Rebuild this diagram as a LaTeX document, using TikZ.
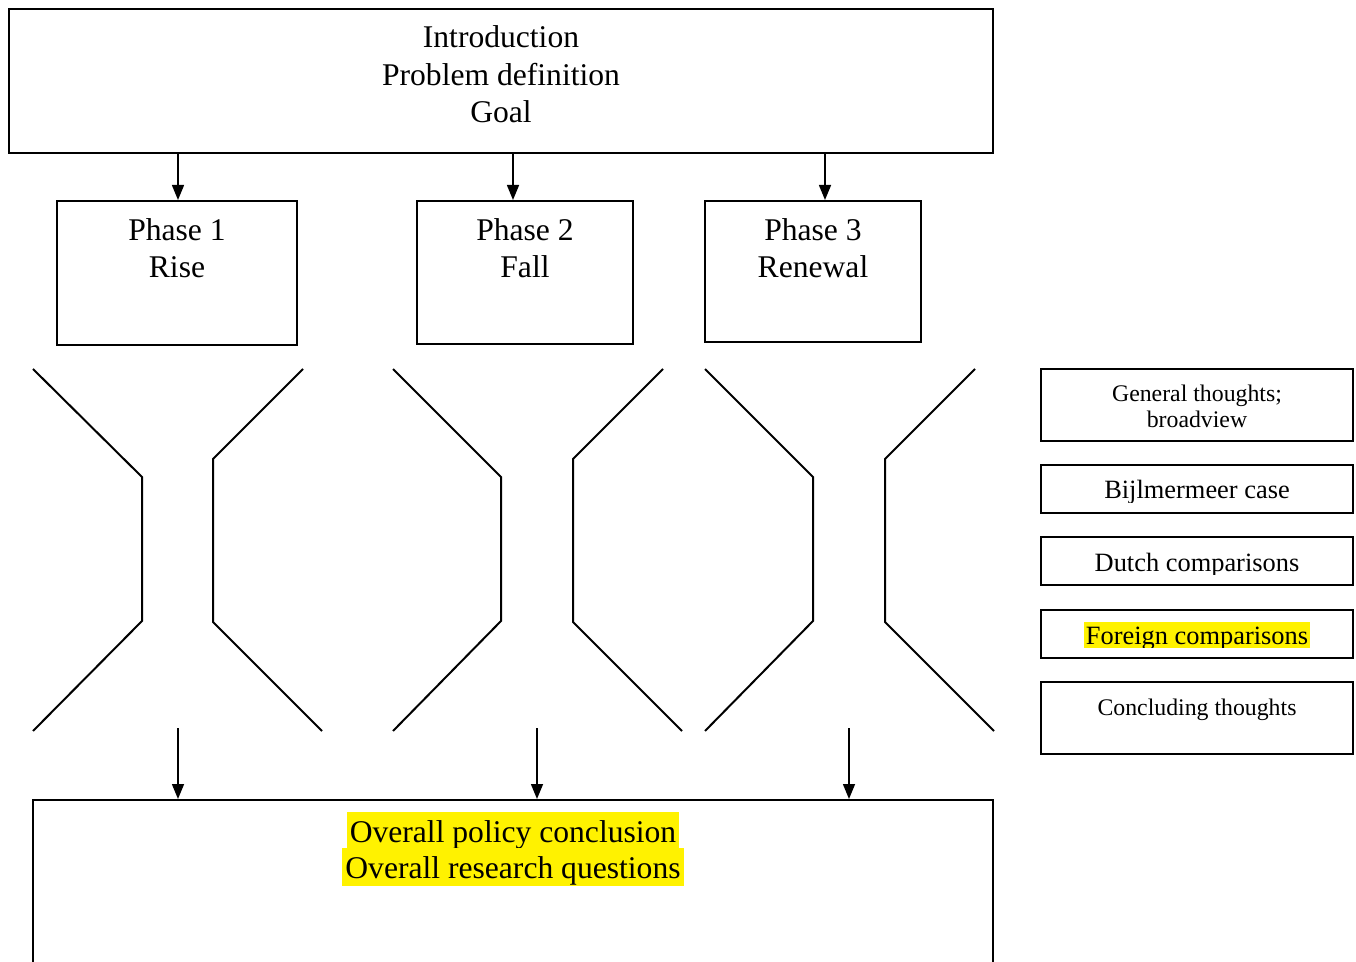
\documentclass[tikz,border=0pt]{standalone}
\usepackage{fontspec}
\setmainfont{Liberation Serif}
\usetikzlibrary{arrows.meta,fit}
\begin{document}
\begin{tikzpicture}[x=0.5pt,y=-0.5pt,
  box/.style={draw,line width=1pt,inner sep=0pt},
  arr/.style={line width=0.75pt,-{Triangle[length=7.5pt,width=6pt]}},
  fun/.style={line width=1pt},
  big/.style={font=\fontsize{15.8}{18}\selectfont,anchor=base,inner sep=0pt},
  mid/.style={font=\fontsize{13.2}{15}\selectfont,anchor=base,inner sep=0pt},
  small/.style={font=\fontsize{11.9}{14}\selectfont,anchor=base,inner sep=0pt},
  hl/.style={fill=yellow,inner xsep=1.5pt,inner ysep=0pt}]
\clip (0,0) rectangle (1356,962);
\fill[white] (0,0) rectangle (1356,962);
% boxes
\node[box,fit={(9,9)(993,153)}] (top) {};
\node[box,fit={(57,201)(297,345)}] (p1) {};
\node[box,fit={(417,201)(633,344)}] (p2) {};
\node[box,fit={(705,201)(921,342)}] (p3) {};
\node[box,fit={(33,800)(993,990)}] (bot) {};
\node[box,fit={(1041,369)(1353,441)}] (r1) {};
\node[box,fit={(1041,465)(1353,513)}] (r2) {};
\node[box,fit={(1041,537)(1353,585)}] (r3) {};
\node[box,fit={(1041,610)(1353,658)}] (r4) {};
\node[box,fit={(1041,682)(1353,754)}] (r5) {};
% texts
\node[big] (t1) at (501,48) {Introduction};
\node[big] (t2) at (501,86) {Problem definition};
\node[big] (t3) at (501,123) {Goal};
\node[big] (p1a) at (177,241) {Phase 1};
\node[big] (p1b) at (177,278) {Rise};
\node[big] (p2a) at (525,241) {Phase 2};
\node[big] (p2b) at (525,278) {Fall};
\node[big] (p3a) at (813,241) {Phase 3};
\node[big] (p3b) at (813,278) {Renewal};
\node[big,hl,text height=15pt,text depth=3pt] (o1) at (513,842) {Overall policy conclusion};
\node[big,hl,text height=15pt,text depth=4pt] (o2) at (513,878) {Overall research questions};
\node[small] (r1a) at (1197,402) {General thoughts;};
\node[small] (r1b) at (1197,428) {broadview};
\begin{scope}
\clip (1041,470) rectangle (1353,503);
\node[mid] (r2a) at (1197,499) {Bijlmermeer case};
\end{scope}
\begin{scope}
\clip (1041,540) rectangle (1353,575);
\node[mid] (r3a) at (1197,572) {Dutch comparisons};
\end{scope}
\begin{scope}
\clip (1041,615) rectangle (1353,648);
\node[mid,hl,text height=11.5pt,text depth=1.5pt,inner xsep=1pt] (r4a) at (1197,645) {Foreign comparisons};
\end{scope}
\node[small] (r5a) at (1197,715) {Concluding thoughts};
% arrows top
\coordinate (c1) at (178,0);
\coordinate (c2) at (513,0);
\coordinate (c3) at (825,0);
\draw[arr] (top.south -| c1) -- (p1.north -| c1);
\draw[arr] (top.south -| c2) -- (p2.north -| c2);
\draw[arr] (top.south -| c3) -- (p3.north -| c3);
% arrows bottom
\coordinate (b1) at (178,728);
\coordinate (b2) at (537,728);
\coordinate (b3) at (849,728);
\draw[arr] (b1) -- (bot.north -| b1);
\draw[arr] (b2) -- (bot.north -| b2);
\draw[arr] (b3) -- (bot.north -| b3);
% funnels
\draw[fun] (33,369) -- (142,477) -- (142,621) -- (33,731);
\draw[fun] (303,369) -- (213,459) -- (213,622) -- (322,731);
\draw[fun] (393,369) -- (501,477) -- (501,621) -- (393,731);
\draw[fun] (663,369) -- (573,459) -- (573,622) -- (682,731);
\draw[fun] (705,369) -- (813,477) -- (813,621) -- (705,731);
\draw[fun] (975,369) -- (885,459) -- (885,622) -- (994,731);
\end{tikzpicture}
\end{document}
